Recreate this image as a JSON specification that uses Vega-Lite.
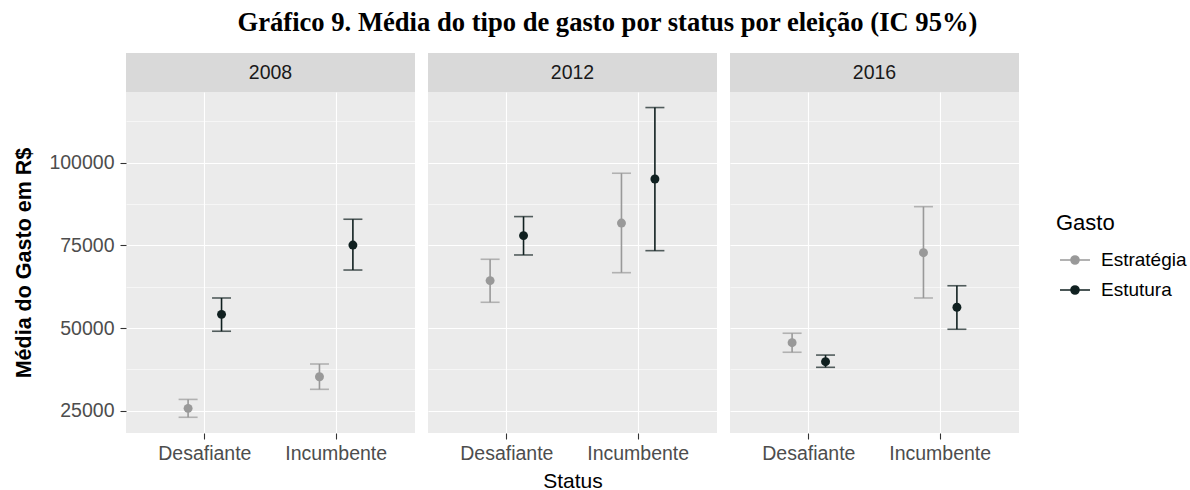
{
  "$schema": "https://vega.github.io/schema/vega-lite/v6.json",
  "padding": {"left": 13, "top": 10, "right": 5, "bottom": 2},
  "title": {
    "text": "Gráfico 9. Média do tipo de gasto por status por eleição (IC 95%)",
    "font": "Liberation Serif",
    "fontSize": 26.6,
    "fontWeight": "bold",
    "color": "#000000",
    "anchor": "middle",
    "offset": 16,
    "dx": 7
  },
  "data": {
    "values": [
      {"year": "2008", "status": "Desafiante", "gasto": "Estratégia", "mean": 25750, "lower": 23050, "upper": 28450},
      {"year": "2008", "status": "Desafiante", "gasto": "Estutura", "mean": 54150, "lower": 49050, "upper": 59100},
      {"year": "2008", "status": "Incumbente", "gasto": "Estratégia", "mean": 35300, "lower": 31500, "upper": 39150},
      {"year": "2008", "status": "Incumbente", "gasto": "Estutura", "mean": 75100, "lower": 67550, "upper": 82900},
      {"year": "2012", "status": "Desafiante", "gasto": "Estratégia", "mean": 64350, "lower": 57800, "upper": 70800},
      {"year": "2012", "status": "Desafiante", "gasto": "Estutura", "mean": 77950, "lower": 72100, "upper": 83700},
      {"year": "2012", "status": "Incumbente", "gasto": "Estratégia", "mean": 81750, "lower": 66750, "upper": 96800},
      {"year": "2012", "status": "Incumbente", "gasto": "Estutura", "mean": 95050, "lower": 73400, "upper": 116650},
      {"year": "2016", "status": "Desafiante", "gasto": "Estratégia", "mean": 45600, "lower": 42700, "upper": 48450},
      {"year": "2016", "status": "Desafiante", "gasto": "Estutura", "mean": 39850, "lower": 38150, "upper": 41850},
      {"year": "2016", "status": "Incumbente", "gasto": "Estratégia", "mean": 72800, "lower": 59100, "upper": 86700},
      {"year": "2016", "status": "Incumbente", "gasto": "Estutura", "mean": 56300, "lower": 49650, "upper": 62800}
    ]
  },
  "hconcat": [
    {
      "vconcat": [
        {
          "transform": [{"filter": "datum.year === '2008'"}, {"aggregate": [{"op": "count", "as": "n"}], "groupby": ["year"]}],
          "width": 289, "height": 39,
          "view": {"fill": "#D9D9D9", "stroke": null},
          "mark": {"type": "text", "fontSize": 19.5, "color": "#1A1A1A", "baseline": "middle", "align": "center"},
          "encoding": {"text": {"field": "year"}}
        },
        {
          "transform": [{"filter": "datum.year === '2008'"}],
          "width": 289, "height": 341,
          "view": {"fill": "#EBEBEB", "stroke": null},
          "encoding": {
            "x": {"field": "status", "type": "nominal",
                  "scale": {"domain": ["Desafiante", "Incumbente"], "paddingInner": 0.491, "paddingOuter": 0.3455},
                  "axis": {"title": null, "labelAngle": 0, "grid": true, "gridWidth": 1.1, "bandPosition": 0.5, "labelPadding": 5}},
            "xOffset": {"field": "gasto", "type": "nominal", "scale": {"domain": ["Estratégia", "Estutura"], "paddingInner": 0, "paddingOuter": 0}},
            "color": {"field": "gasto", "type": "nominal",
                      "scale": {"domain": ["Estratégia", "Estutura"], "range": ["#999999", "#102020"]},
                      "legend": {
                        "title": "Gasto", "orient": "none", "legendX": 930, "legendY": 160,
                        "titleFontSize": 22, "titleFontWeight": "normal", "titleColor": "#000000", "titlePadding": 6,
                        "labelFontSize": 19, "labelColor": "#000000", "labelOffset": 7,
                        "symbolType": "M-0.833,0H0.833M-0.222,0A0.222,0.222,0,1,1,0.222,0A0.222,0.222,0,1,1,-0.222,0Z",
                        "symbolSize": 1296, "symbolStrokeWidth": 1.6, "rowPadding": 1,
                        "encode": {"symbols": {"update": {"fill": {"scale": "color", "field": "value"}, "stroke": {"scale": "color", "field": "value"}, "opacity": {"value": 1}}}}
                      }}
          },
          "layer": [
            {"mark": {"type": "rule", "strokeWidth": 1.6},
             "encoding": {
               "y": {"field": "lower", "type": "quantitative",
                     "scale": {"domain": [18300, 121350], "nice": false, "zero": false},
                     "axis": {"title": "Média do Gasto em R$",
                              "values": [25000, 37500, 50000, 62500, 75000, 87500, 100000, 112500],
                              "format": "d",
                              "labelExpr": "datum.value % 25000 === 0 ? datum.label : ''",
                              "gridWidth": {"condition": {"test": "datum.value % 25000 === 0", "value": 1.1}, "value": 0.55},
                              "tickOpacity": {"condition": {"test": "datum.value % 25000 === 0", "value": 1}, "value": 0},
                              "titleFontWeight": "bold", "titleFontSize": 21.5, "titlePadding": 13, "labelPadding": 6}},
               "y2": {"field": "upper"}}},
            {"mark": {"type": "tick", "thickness": 1.6, "size": 19, "orient": "horizontal"},
             "encoding": {"y": {"field": "lower", "type": "quantitative"}}},
            {"mark": {"type": "tick", "thickness": 1.6, "size": 19, "orient": "horizontal"},
             "encoding": {"y": {"field": "upper", "type": "quantitative"}}},
            {"mark": {"type": "point", "filled": true, "size": 80, "opacity": 1},
             "encoding": {"y": {"field": "mean", "type": "quantitative"}}}
          ]
        }
      ],
      "spacing": 0,
      "bounds": "flush"
    },
    {
      "vconcat": [
        {
          "transform": [{"filter": "datum.year === '2012'"}, {"aggregate": [{"op": "count", "as": "n"}], "groupby": ["year"]}],
          "width": 289, "height": 39,
          "view": {"fill": "#D9D9D9", "stroke": null},
          "mark": {"type": "text", "fontSize": 19.5, "color": "#1A1A1A", "baseline": "middle", "align": "center"},
          "encoding": {"text": {"field": "year"}}
        },
        {
          "transform": [{"filter": "datum.year === '2012'"}],
          "width": 289, "height": 341,
          "view": {"fill": "#EBEBEB", "stroke": null},
          "encoding": {
            "x": {"field": "status", "type": "nominal",
                  "scale": {"domain": ["Desafiante", "Incumbente"], "paddingInner": 0.491, "paddingOuter": 0.3455},
                  "axis": {"title": "Status", "labelAngle": 0, "grid": true, "gridWidth": 1.1, "bandPosition": 0.5, "labelPadding": 5, "titlePadding": 8}},
            "xOffset": {"field": "gasto", "type": "nominal", "scale": {"domain": ["Estratégia", "Estutura"], "paddingInner": 0, "paddingOuter": 0}},
            "color": {"field": "gasto", "type": "nominal"}
          },
          "layer": [
            {"mark": {"type": "rule", "strokeWidth": 1.6},
             "encoding": {
               "y": {"field": "lower", "type": "quantitative",
                     "scale": {"domain": [18300, 121350], "nice": false, "zero": false},
                     "axis": {"title": null,
                              "values": [25000, 37500, 50000, 62500, 75000, 87500, 100000, 112500],
                              "labels": false, "ticks": false,
                              "gridWidth": {"condition": {"test": "datum.value % 25000 === 0", "value": 1.1}, "value": 0.55}}},
               "y2": {"field": "upper"}}},
            {"mark": {"type": "tick", "thickness": 1.6, "size": 19, "orient": "horizontal"},
             "encoding": {"y": {"field": "lower", "type": "quantitative"}}},
            {"mark": {"type": "tick", "thickness": 1.6, "size": 19, "orient": "horizontal"},
             "encoding": {"y": {"field": "upper", "type": "quantitative"}}},
            {"mark": {"type": "point", "filled": true, "size": 80, "opacity": 1},
             "encoding": {"y": {"field": "mean", "type": "quantitative"}}}
          ]
        }
      ],
      "spacing": 0,
      "bounds": "flush"
    },
    {
      "vconcat": [
        {
          "transform": [{"filter": "datum.year === '2016'"}, {"aggregate": [{"op": "count", "as": "n"}], "groupby": ["year"]}],
          "width": 289, "height": 39,
          "view": {"fill": "#D9D9D9", "stroke": null},
          "mark": {"type": "text", "fontSize": 19.5, "color": "#1A1A1A", "baseline": "middle", "align": "center"},
          "encoding": {"text": {"field": "year"}}
        },
        {
          "transform": [{"filter": "datum.year === '2016'"}],
          "width": 289, "height": 341,
          "view": {"fill": "#EBEBEB", "stroke": null},
          "encoding": {
            "x": {"field": "status", "type": "nominal",
                  "scale": {"domain": ["Desafiante", "Incumbente"], "paddingInner": 0.491, "paddingOuter": 0.3455},
                  "axis": {"title": null, "labelAngle": 0, "grid": true, "gridWidth": 1.1, "bandPosition": 0.5, "labelPadding": 5}},
            "xOffset": {"field": "gasto", "type": "nominal", "scale": {"domain": ["Estratégia", "Estutura"], "paddingInner": 0, "paddingOuter": 0}},
            "color": {"field": "gasto", "type": "nominal"}
          },
          "layer": [
            {"mark": {"type": "rule", "strokeWidth": 1.6},
             "encoding": {
               "y": {"field": "lower", "type": "quantitative",
                     "scale": {"domain": [18300, 121350], "nice": false, "zero": false},
                     "axis": {"title": null,
                              "values": [25000, 37500, 50000, 62500, 75000, 87500, 100000, 112500],
                              "labels": false, "ticks": false,
                              "gridWidth": {"condition": {"test": "datum.value % 25000 === 0", "value": 1.1}, "value": 0.55}}},
               "y2": {"field": "upper"}}},
            {"mark": {"type": "tick", "thickness": 1.6, "size": 19, "orient": "horizontal"},
             "encoding": {"y": {"field": "lower", "type": "quantitative"}}},
            {"mark": {"type": "tick", "thickness": 1.6, "size": 19, "orient": "horizontal"},
             "encoding": {"y": {"field": "upper", "type": "quantitative"}}},
            {"mark": {"type": "point", "filled": true, "size": 80, "opacity": 1},
             "encoding": {"y": {"field": "mean", "type": "quantitative"}}}
          ]
        }
      ],
      "spacing": 0,
      "bounds": "flush"
    }
  ],
  "spacing": 13,
  "resolve": {"scale": {"color": "shared"}},
  "config": {
    "font": "Liberation Sans",
    "view": {"stroke": null},
    "axis": {
      "domain": false,
      "gridColor": "#FFFFFF",
      "tickColor": "#333333",
      "tickSize": 6,
      "tickWidth": 1.1,
      "labelColor": "#4D4D4D",
      "labelFontSize": 19.5,
      "titleColor": "#000000",
      "titleFontWeight": "normal",
      "titleFontSize": 21
    },
    "legend": {"padding": 0}
  }
}
